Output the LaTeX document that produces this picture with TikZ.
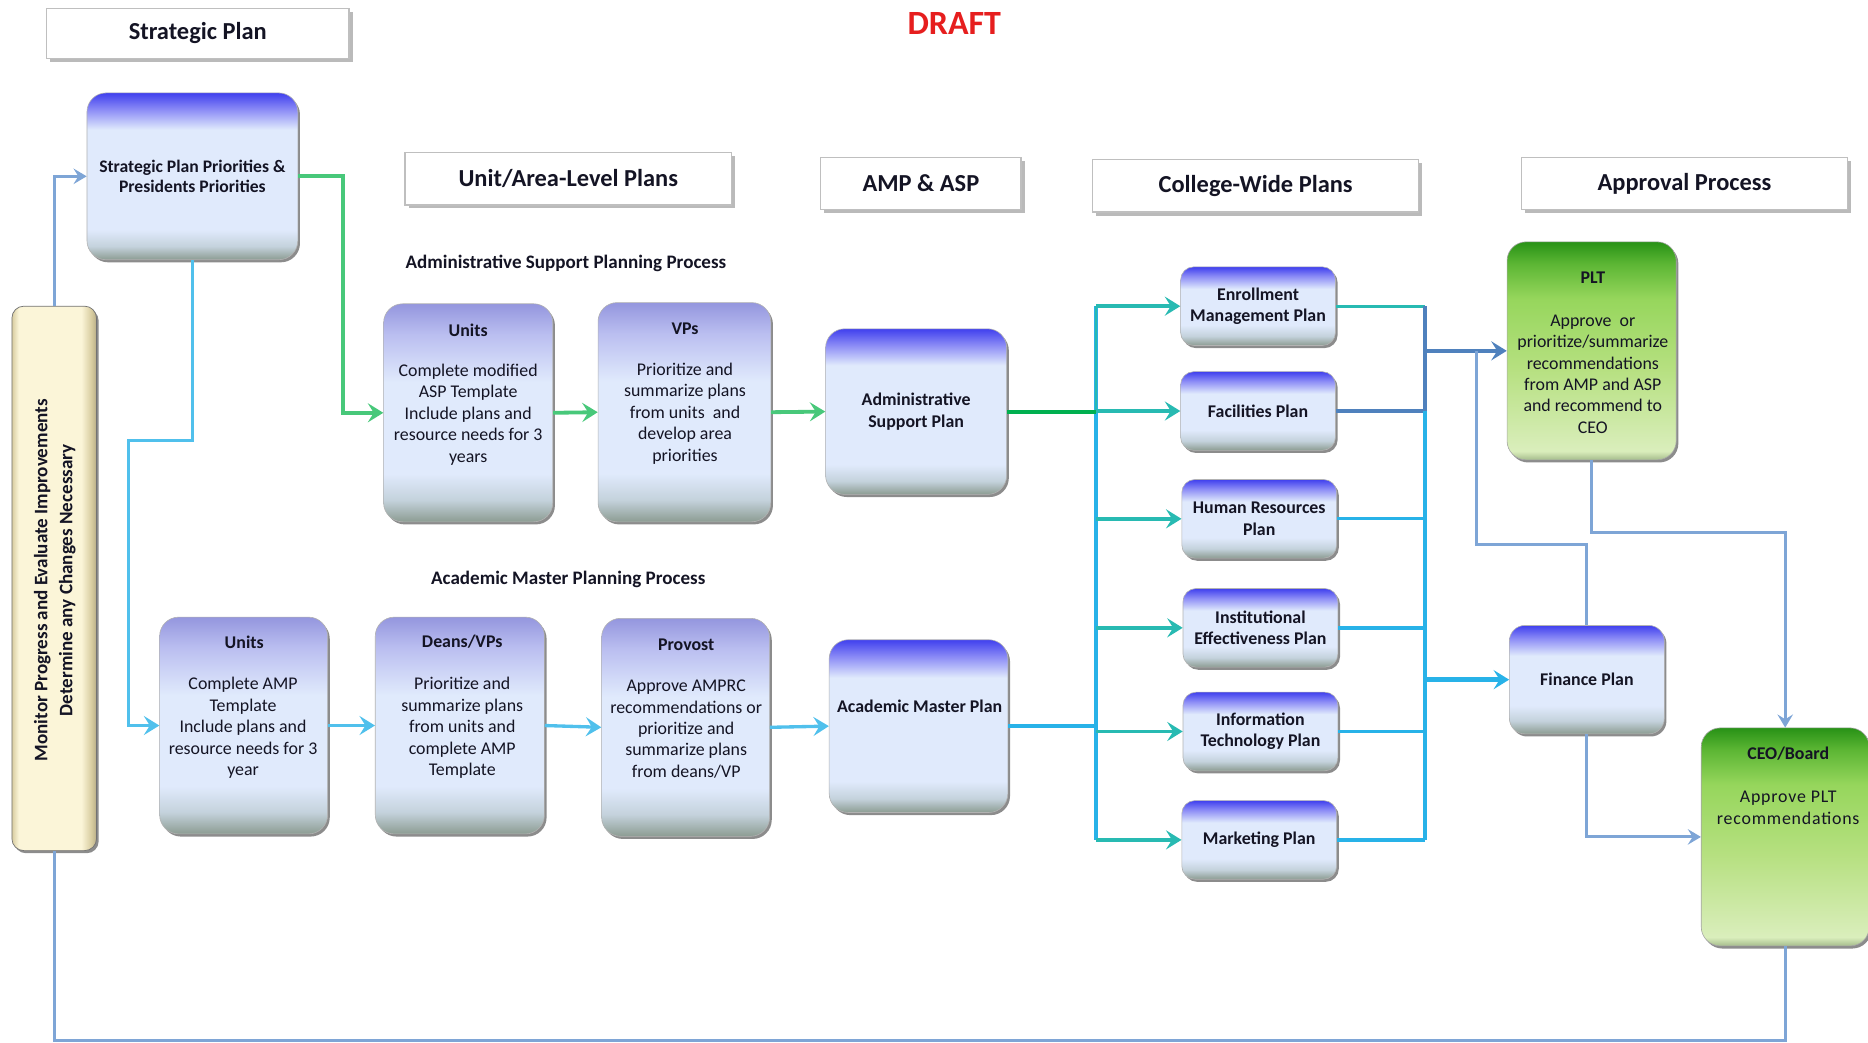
\documentclass[tikz,border=0pt]{standalone}
\usepackage{fontspec}
\setmainfont{Carlito}
\usetikzlibrary{arrows.meta,shadows,calc}
\definecolor{bB}{RGB}{140,156,146}
\definecolor{bM}{RGB}{196,210,220}
\definecolor{bL}{RGB}{224,234,252}
\definecolor{bT2}{RGB}{140,140,246}
\definecolor{bT}{RGB}{64,64,238}
\definecolor{lT2}{RGB}{186,190,240}
\definecolor{lT}{RGB}{148,150,222}
\definecolor{gB}{RGB}{165,188,140}
\definecolor{gP}{RGB}{218,238,188}
\definecolor{gM}{RGB}{182,224,128}
\definecolor{gL}{RGB}{150,214,92}
\definecolor{gT2}{RGB}{92,182,52}
\definecolor{gT}{RGB}{40,146,22}
\definecolor{cgreen}{RGB}{72,200,122}
\definecolor{cdkgreen}{RGB}{0,176,80}
\definecolor{cteal}{RGB}{40,186,178}
\definecolor{ccyan}{RGB}{40,178,232}
\definecolor{clblue}{RGB}{80,192,236}
\definecolor{csteel}{RGB}{79,129,189}
\definecolor{clsteel}{RGB}{126,165,214}
\definecolor{tan}{RGB}{251,245,216}
\definecolor{tanD}{RGB}{216,204,160}
\definecolor{draftred}{RGB}{230,30,30}
\definecolor{txt}{RGB}{20,20,36}
\pgfdeclareverticalshading{bluestrong}{100bp}{color(0bp)=(bB); color(25bp)=(bB); color(29bp)=(bM); color(34bp)=(bL); color(64bp)=(bL); color(70bp)=(bT2); color(75bp)=(bT); color(100bp)=(bT)}
\pgfdeclareverticalshading{bluesmall}{100bp}{color(0bp)=(bB); color(25bp)=(bB); color(31bp)=(bM); color(38bp)=(bL); color(61bp)=(bL); color(69bp)=(bT2); color(75bp)=(bT); color(100bp)=(bT)}
\pgfdeclareverticalshading{bluelight}{100bp}{color(0bp)=(bB); color(25bp)=(bB); color(30bp)=(bM); color(36bp)=(bL); color(57bp)=(bL); color(68bp)=(lT2); color(75bp)=(lT); color(100bp)=(lT)}
\pgfdeclareverticalshading{greenbox}{100bp}{color(0bp)=(gB); color(25bp)=(gB); color(27bp)=(gP); color(46bp)=(gM); color(62bp)=(gL); color(70bp)=(gT2); color(75bp)=(gT); color(100bp)=(gT)}
\pgfdeclarehorizontalshading{tanbox}{100bp}{color(0bp)=(tanD); color(25bp)=(tanD); color(29bp)=(tan); color(66bp)=(tan); color(72bp)=(tanD); color(75bp)=(tanD!85!black); color(100bp)=(tanD!85!black)}
\tikzset{
  boxshadow/.style={drop shadow={shadow xshift=1.8pt,shadow yshift=-2.2pt,fill=black,opacity=0.45}},
  bnode/.style={rounded corners=16pt, draw=black!30, line width=0.5pt, shade, shading=bluestrong, boxshadow, inner sep=0pt},
  snode/.style={rounded corners=11pt, draw=black!30, line width=0.5pt, shade, shading=bluesmall, boxshadow, inner sep=0pt, minimum width=130pt, minimum height=66pt,
     font={\bfseries\fontsize{15}{18}\selectfont}, text=txt, align=center},
  lnode/.style={rounded corners=16pt, draw=black!30, line width=0.5pt, shade, shading=bluelight, boxshadow, inner sep=0pt},
  gnode/.style={rounded corners=16pt, draw=black!35, line width=0.5pt, shade, shading=greenbox, boxshadow, inner sep=0pt},
  hdr/.style={draw=black!25, line width=1pt, fill=white, inner sep=0pt,
     drop shadow={shadow xshift=3pt,shadow yshift=-3pt,fill=black!45,opacity=0.6},
     font={\bfseries\fontsize{20.5}{24}\selectfont}, text=txt},
  ttl/.style={font={\bfseries\fontsize{15}{18}\selectfont}, text=txt, inner sep=0pt},
  body/.style={font={\fontsize{15}{18}\selectfont}, text=txt, align=center, inner sep=0pt},
  sect/.style={font={\bfseries\fontsize{16}{19}\selectfont}, text=txt, inner sep=0pt},
  tip/.style={-{Stealth[length=13pt,width=16pt,inset=5pt]}},
  smtip/.style={-{Stealth[length=11pt,width=13pt,inset=4pt]}},
}
\begin{document}
\begin{tikzpicture}[x=1pt,y=-1pt]
\useasboundingbox (0,0) rectangle (1568,875);

% ---------- headers ----------
\node[hdr, minimum width=254pt, minimum height=42pt] (hs) at (166,28) {Strategic Plan};
\node[hdr, minimum width=274pt, minimum height=44pt] (hu) at (477,150) {Unit/Area-Level Plans};
\node[hdr, minimum width=168pt, minimum height=44pt] (ha) at (773,154) {AMP \& ASP};
\node[hdr, minimum width=274pt, minimum height=44pt] (hc) at (1054,156) {College-Wide Plans};
\node[hdr, minimum width=274pt, minimum height=44pt] (hp) at (1414,154) {Approval Process};
\node[font={\bfseries\fontsize{28.5}{32}\selectfont}, text=draftred, inner sep=0pt] (draft) at (801,20) {DRAFT};

\node[sect] (s1) at (475,221) {Administrative Support Planning Process};
\node[sect] (s2) at (477,486) {Academic Master Planning Process};

% ---------- monitor ----------
\node[rounded corners=10pt, draw=black!55, line width=0.6pt, shade, shading=tanbox, boxshadow, minimum width=71pt, minimum height=457pt, inner sep=0pt] (mon) at (45.5,485.5) {};
\node[rotate=90, align=center, font={\bfseries\fontsize{16}{21}\selectfont}, text=txt, inner sep=0pt] (montxt) at (46,487) {Monitor Progress and Evaluate Improvements\\Determine any Changes Necessary};

% ---------- strategic ----------
\node[bnode, minimum width=177pt, minimum height=140pt, font={\bfseries\fontsize{14.8}{17.5}\selectfont}, text=txt, align=center] (spp) at (161.5,148) {Strategic Plan Priorities \&\\Presidents Priorities};

% ---------- ASP row ----------
\node[lnode, minimum width=142pt, minimum height=183pt] (u1) at (393,346.5) {};
\node[ttl] (u1t) at (393,277) {Units};
\node[body] (u1b) at (393,348) {Complete modified\\ASP Template\\Include plans and\\resource needs for 3\\years};

\node[lnode, minimum width=145pt, minimum height=184pt] (vp) at (574.5,346) {};
\node[ttl] (vpt) at (575,276) {VPs};
\node[body] (vpb) at (575,347) {Prioritize and\\summarize plans\\from units\ \ and\\develop area\\priorities};

\node[bnode, minimum width=152pt, minimum height=139pt, font={\bfseries\fontsize{15}{18}\selectfont}, text=txt, align=center] (asp) at (769,345.5) {Administrative\\Support Plan};

% ---------- AMP row ----------
\node[lnode, minimum width=141pt, minimum height=182pt] (u2) at (204.5,609) {};
\node[ttl] (u2t) at (205,539) {Units};
\node[body] (u2b) at (204,611) {Complete AMP\\Template\\Include plans and\\resource needs for 3\\year};

\node[lnode, minimum width=142pt, minimum height=182pt] (dv) at (386,609) {};
\node[ttl] (dvt) at (388,539) {Deans/VPs};
\node[body] (dvb) at (388,611) {Prioritize and\\summarize plans\\from units and\\complete AMP\\Template};

\node[lnode, minimum width=141pt, minimum height=183pt] (pv) at (575.5,610.5) {};
\node[ttl] (pvt) at (576,541) {Provost};
\node[body] (pvb) at (576,612) {Approve AMPRC\\recommendations or\\prioritize and\\summarize plans\\from deans/VP};

\node[bnode, minimum width=150pt, minimum height=145pt] (amp) at (771,609.5) {};
\node[ttl] (ampt) at (772,593) {Academic Master Plan};

% ---------- college-wide ----------
\node[snode] (em) at (1056,257) {Enrollment\\Management Plan};
\node[snode] (fp) at (1056,345) {Facilities Plan};
\node[snode] (hr) at (1057,435.5) {Human Resources\\Plan};
\node[snode] (ie) at (1058,527) {Institutional\\Effectiveness Plan};
\node[snode] (it) at (1058,614) {Information\\Technology Plan};
\node[snode] (mk) at (1057,705) {Marketing Plan};

% ---------- approval ----------
\node[snode, minimum height=91pt, rounded corners=13pt] (fin) at (1332,570.5) {Finance Plan};
\node[gnode, minimum width=142pt, minimum height=183pt] (plt) at (1336,294.5) {};
\node[ttl] (pltt) at (1337,233) {PLT};
\node[body] (pltb) at (1337,314) {Approve\ \ or\\prioritize/summarize\\recommendations\\from AMP and ASP\\and recommend to\\CEO};
\node[gnode, minimum width=141pt, minimum height=183pt] (ceo) at (1498.5,702.5) {};
\node[ttl] (ceot) at (1501,633) {CEO/Board};
\node[body, font={\fontsize{15}{18}\selectfont\addfontfeature{LetterSpace=4.5}}] (ceob) at (1501,678) {Approve PLT\\recommendations};

% ---------- helper coordinates ----------
\coordinate (kg) at (288,0);
\coordinate (kb) at (108,370);
\coordinate (ja) at (920,0);
\coordinate (rt) at (1196,0);
\coordinate (br) at (1239,294.5);
\coordinate (brb) at (1239,457);
\coordinate (c447) at (0,447);
\coordinate (cbot) at (0,873);

% ---------- ASP connectors ----------
\draw[cgreen, line width=3.2pt, tip] (spp.east) -- (spp.east -| kg) |- (u1.west);
\draw[cgreen, line width=3.2pt, tip] (u1.east) -- (vp.west);
\draw[cgreen, line width=3.2pt, tip] (vp.east) -- (asp.west);

% ---------- AMP connectors ----------
\draw[clblue, line width=2.8pt, tip] (spp.south) |- (kb) |- (u2.west);
\draw[clblue, line width=2.8pt, tip] (u2.east) -- (dv.west);
\draw[clblue, line width=2.8pt, tip] (dv.east) -- (pv.west);
\draw[clblue, line width=2.8pt, tip] (pv.east) -- (amp.west);

% ---------- to college-wide ----------
\draw[ccyan, line width=3.2pt] (ja |- em.west) -- (ja |- mk.west);
\draw[cteal, line width=1.4pt] (ja |- em.west) -- (ja |- asp.east);
\draw[cdkgreen, line width=3.4pt] (asp.east) -- (ja |- asp.east);
\draw[ccyan, line width=3.2pt] (amp.east) -- (ja |- amp.east);
\foreach \n in {em,fp,hr,ie,it,mk}{
  \draw[cteal, line width=3pt, tip] (ja |- \n.west) -- (\n.west);
}

% ---------- from college-wide ----------
\draw[cteal, line width=2.8pt] (em.east) -- (rt |- em.east);
\draw[csteel, line width=2.8pt] (fp.east) -- (rt |- fp.east);
\draw[ccyan, line width=2.8pt] (hr.east) -- (rt |- hr.east);
\draw[ccyan, line width=2.8pt] (ie.east) -- (rt |- ie.east);
\draw[ccyan, line width=2.8pt] (it.east) -- (rt |- it.east);
\draw[ccyan, line width=2.8pt] (mk.east) -- (rt |- mk.east);
\draw[ccyan, line width=3.2pt] (rt |- em.east) -- (rt |- mk.east);
\draw[csteel, line width=3.2pt] (rt |- em.east) -- (rt |- fp.east);
\draw[csteel, line width=3.2pt, tip] (rt |- plt.west) -- (plt.west);
\draw[ccyan, line width=3.8pt, tip] (rt |- fin.west) -- (fin.west);
\draw[clsteel, line width=2.5pt] (br) -- (brb) -| (fin.north);

% ---------- approval ----------
\draw[clsteel, line width=2.5pt, smtip] (plt.south) -- (plt.south |- c447) -| (ceo.north);
\draw[clsteel, line width=2.5pt, smtip] (fin.south) |- (ceo.west);

% ---------- feedback loop ----------
\draw[clsteel, line width=2.5pt] (ceo.south) -- (ceo.south |- cbot) -| (mon.south);
\draw[clsteel, line width=2.5pt, smtip] (mon.north) |- (spp.west);
\end{tikzpicture}
\end{document}
